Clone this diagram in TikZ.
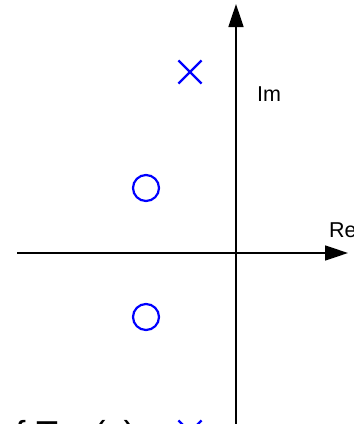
\documentclass[tikz,border=0pt]{standalone}
\usepackage{fontspec}
\setmainfont{Liberation Sans}
\usetikzlibrary{arrows.meta,shapes.misc}
\begin{document}
\begin{tikzpicture}[x=1pt,y=-1pt,
  axis/.style={line width=1.6pt,-{Triangle[length=23pt,width=15pt]}},
  zero/.style={circle,draw=blue,line width=2.2pt,minimum size=26pt,inner sep=0pt},
  pole/.style={cross out,draw=blue,line width=2.2pt,minimum size=21pt,inner sep=0pt},
  lbl/.style={font=\fontsize{21.5}{24}\selectfont,inner sep=0pt}]
\useasboundingbox (0,0) rectangle (354,424);
\clip (0,0) rectangle (354,424);
\coordinate (xl) at (17,253);
\coordinate (xr) at (348,253);
\coordinate (yb) at (236,440);
\coordinate (yt) at (236,4);
\draw[axis] (xl) -- (xr);
\draw[axis] (yb) -- (yt);
\node[lbl,anchor=base west] (re) at (329,237) {Re};
\node[lbl,anchor=base west] (im) at (257,101) {Im};
\node[zero] (z1) at (146,188) {};
\node[zero] (z2) at (146,317) {};
\node[pole] (p1) at (190,72) {};
\node[pole] (p2) at (190,432) {};
\node[anchor=base west,inner sep=0pt,font=\fontsize{36}{40}\selectfont] (tf) at (14,446) {\{ T\textsubscript{out}(s)};
\end{tikzpicture}
\end{document}
